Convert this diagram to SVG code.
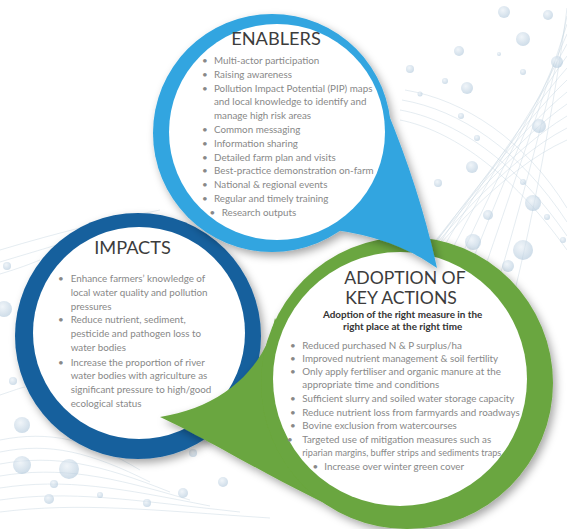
<svg xmlns="http://www.w3.org/2000/svg" width="567" height="529" viewBox="0 0 567 529">
<defs>
<filter id="sh" x="-20%" y="-20%" width="150%" height="150%">
<feDropShadow dx="3" dy="4" stdDeviation="4" flood-color="#000" flood-opacity="0.35"/>
</filter>
<radialGradient id="dot" cx="0.4" cy="0.35" r="0.7">
<stop offset="0" stop-color="#e6eef5"/>
<stop offset="1" stop-color="#aac3d8"/>
</radialGradient>
</defs>
<style>
.bg-line{fill:none;stroke:#c8d6e2;stroke-width:0.6;opacity:0.8}
.dot{fill:url(#dot);opacity:0.6}
.title{font-family:Lato,"Liberation Sans",sans-serif;font-size:18.2px;fill:#3c3c3c}
.item{font-family:Lato,"Liberation Sans",sans-serif;font-size:9.8px;fill:#888}
.head{font-family:Lato,"Liberation Sans",sans-serif;text-anchor:middle}
.t2{font-size:17.6px;fill:#3c3c3c}
.sub{font-size:9.9px;font-weight:bold;fill:#333}
.white{fill:#fff}
</style>
<rect width="567" height="529" fill="#fff"/>
<g id="background">
<path class="bg-line" d="M380,320 C430,250 500,170 567,140"/>
<path class="bg-line" d="M385,310 C435,240 505,160 567,128"/>
<path class="bg-line" d="M392,300 C440,230 510,150 567,116"/>
<path class="bg-line" d="M400,290 C446,222 515,140 567,104"/>
<path class="bg-line" d="M410,282 C452,214 520,130 567,92"/>
<path class="bg-line" d="M420,276 C460,206 525,120 567,80"/>
<path class="bg-line" d="M430,272 C468,200 530,110 567,68"/>
<path class="bg-line" d="M442,270 C478,195 535,100 567,56"/>
<path class="bg-line" d="M455,270 C490,192 540,92 567,44"/>
<path class="bg-line" d="M468,272 C500,190 545,84 567,34"/>
<path class="bg-line" d="M482,276 C512,190 550,76 567,24"/>
<path class="bg-line" d="M498,282 C525,192 556,70 567,16"/>
<path class="bg-line" d="M515,290 C538,196 560,66 567,8"/>
<path class="bg-line" d="M400,120 C450,130 510,170 567,250"/>
<path class="bg-line" d="M400,110 C455,120 515,160 567,236"/>
<path class="bg-line" d="M402,100 C460,110 520,150 567,222"/>
<path class="bg-line" d="M405,90 C465,100 525,140 567,208"/>
<path class="bg-line" d="M0,250 C60,232 110,220 160,210"/>
<path class="bg-line" d="M0,262 C40,250 60,244 80,238"/>
<path class="bg-line" d="M0,274 C20,268 30,264 40,260"/>
<path class="bg-line" d="M0,395 C15,390 20,388 25,387"/>
<path class="bg-line" d="M0,440 C50,430 90,440 140,470"/>
<path class="bg-line" d="M0,452 C50,442 90,452 150,482"/>
<path class="bg-line" d="M0,464 C55,454 100,464 170,492"/>
<path class="bg-line" d="M0,476 C60,466 110,476 190,500"/>
<path class="bg-line" d="M0,488 C65,478 120,488 210,506"/>
<path class="bg-line" d="M0,500 C70,490 130,500 240,512"/>
<path class="bg-line" d="M0,512 C80,502 150,510 270,518"/>
<circle class="dot" cx="504" cy="12" r="6"/>
<circle class="dot" cx="548" cy="15" r="5"/>
<circle class="dot" cx="523" cy="39" r="7"/>
<circle class="dot" cx="459" cy="51" r="5"/>
<circle class="dot" cx="557" cy="62" r="6"/>
<circle class="dot" cx="499" cy="54" r="2"/>
<circle class="dot" cx="410" cy="69" r="4"/>
<circle class="dot" cx="467" cy="88" r="6"/>
<circle class="dot" cx="445" cy="81" r="3"/>
<circle class="dot" cx="523" cy="72" r="3"/>
<circle class="dot" cx="461" cy="116" r="3"/>
<circle class="dot" cx="420" cy="94" r="2.5"/>
<circle class="dot" cx="539" cy="126" r="7"/>
<circle class="dot" cx="477" cy="138" r="3"/>
<circle class="dot" cx="472" cy="167" r="6"/>
<circle class="dot" cx="438" cy="183" r="4"/>
<circle class="dot" cx="533" cy="203" r="8"/>
<circle class="dot" cx="523" cy="182" r="3"/>
<circle class="dot" cx="488" cy="215" r="5"/>
<circle class="dot" cx="547" cy="217" r="3"/>
<circle class="dot" cx="473" cy="242" r="8"/>
<circle class="dot" cx="523" cy="250" r="10"/>
<circle class="dot" cx="508" cy="266" r="6"/>
<circle class="dot" cx="563" cy="240" r="3"/>
<circle class="dot" cx="7" cy="266" r="4"/>
<circle class="dot" cx="4" cy="309" r="8"/>
<circle class="dot" cx="13" cy="381" r="4"/>
<circle class="dot" cx="22" cy="425" r="8"/>
<circle class="dot" cx="22" cy="465" r="9"/>
<circle class="dot" cx="69" cy="469" r="10"/>
<circle class="dot" cx="54" cy="484" r="4"/>
<circle class="dot" cx="49" cy="499" r="5"/>
<circle class="dot" cx="193" cy="453" r="4"/>
<circle class="dot" cx="223" cy="482" r="5"/>
<circle class="dot" cx="183" cy="493" r="5"/>
<circle class="dot" cx="147" cy="503" r="4"/>
<circle class="dot" cx="100" cy="495" r="3"/>
</g>

<g id="impacts">
<g filter="url(#sh)"><circle cx="138" cy="336" r="123" fill="#17609d"/></g>
<circle class="white" cx="139" cy="333" r="106"/>
<text class="title" x="132.5" y="254" text-anchor="middle">IMPACTS</text>
<text class="item" x="58" y="282.3">•</text>
<text class="item" x="70.7" y="282.3">Enhance farmers’ knowledge of</text>
<text class="item" x="70.7" y="296">local water quality and pollution</text>
<text class="item" x="70.7" y="309.6">pressures</text>
<text class="item" x="58" y="323.3">•</text>
<text class="item" x="70.7" y="323.3">Reduce nutrient, sediment,</text>
<text class="item" x="70.7" y="337">pesticide and pathogen loss to</text>
<text class="item" x="70.7" y="350.7">water bodies</text>
<text class="item" x="58" y="365.5">•</text>
<text class="item" x="70.7" y="365.5">Increase the proportion of river</text>
<text class="item" x="70.7" y="379.3">water bodies with agriculture as</text>
<text class="item" x="70.7" y="393">significant pressure to high/good</text>
<text class="item" x="70.7" y="406.7">ecological status</text>
</g>

<g id="adoption">
<g filter="url(#sh)">
<path d="M275,318 C265,370 220,408 160,417 C210,440 290,490 365,522 Z" fill="#6aa63f"/>
<circle cx="407" cy="383" r="146" fill="#6aa63f"/>
</g>
<circle class="white" cx="400" cy="379" r="127"/>
<text class="head"><tspan class="t2" x="405" y="283.6">ADOPTION OF</tspan><tspan class="t2" x="401" y="304.2">KEY ACTIONS</tspan><tspan class="sub" x="402.6" y="318">Adoption of the right measure in the</tspan><tspan class="sub" x="402.6" y="329.5">right place at the right time</tspan></text>
<text class="item" x="290" y="348.7">•</text>
<text class="item" x="302.3" y="348.7">Reduced purchased N &amp; P surplus/ha</text>
<text class="item" x="290" y="361.7">•</text>
<text class="item" x="302.3" y="361.7">Improved nutrient management &amp; soil fertility</text>
<text class="item" x="290" y="374.5">•</text>
<text class="item" x="302.3" y="374.5">Only apply fertiliser and organic manure at the</text>
<text class="item" x="302.3" y="388.3">appropriate time and conditions</text>
<text class="item" x="290" y="401.7">•</text>
<text class="item" x="302.3" y="401.7">Sufficient slurry and soiled water storage capacity</text>
<text class="item" x="290" y="415.5">•</text>
<text class="item" x="302.3" y="415.5">Reduce nutrient loss from farmyards and roadways</text>
<text class="item" x="290" y="429">•</text>
<text class="item" x="302.3" y="429">Bovine exclusion from watercourses</text>
<text class="item" x="287" y="442.7">•</text>
<text class="item" x="302.3" y="442.7">Targeted use of mitigation measures such as</text>
<text class="item" x="302.3" y="455.7" textLength="199" lengthAdjust="spacingAndGlyphs">riparian margins, buffer strips and sediments traps</text>
<text class="item" x="312.5" y="470">•</text>
<text class="item" x="324.3" y="470">Increase over winter green cover</text>
</g>

<g id="enablers">
<g filter="url(#sh)">
<circle cx="272" cy="133" r="119" fill="#31a5e0"/>
<path d="M386,108 Q420,190 437,268 Q395,238 335,230 Z" fill="#31a5e0"/>
</g>
<circle class="white" cx="277" cy="132" r="108"/>
<text class="title" x="276" y="45" text-anchor="middle">ENABLERS</text>
<text class="item" x="202" y="64">•</text>
<text class="item" x="214" y="64">Multi-actor participation</text>
<text class="item" x="202" y="77.8">•</text>
<text class="item" x="214" y="77.8">Raising awareness</text>
<text class="item" x="202" y="91.6">•</text>
<text class="item" x="214" y="91.6">Pollution Impact Potential (PIP) maps</text>
<text class="item" x="214" y="105.4">and local knowledge to identify and</text>
<text class="item" x="214" y="119.2">manage high risk areas</text>
<text class="item" x="202" y="133">•</text>
<text class="item" x="214" y="133">Common messaging</text>
<text class="item" x="202" y="146.8">•</text>
<text class="item" x="214" y="146.8">Information sharing</text>
<text class="item" x="202" y="160.6">•</text>
<text class="item" x="214" y="160.6">Detailed farm plan and visits</text>
<text class="item" x="202" y="174.4">•</text>
<text class="item" x="214" y="174.4">Best-practice demonstration on-farm</text>
<text class="item" x="202" y="188.2">•</text>
<text class="item" x="214" y="188.2">National &amp; regional events</text>
<text class="item" x="202" y="202">•</text>
<text class="item" x="214" y="202">Regular and timely training</text>
<text class="item" x="209.5" y="215.8">•</text>
<text class="item" x="221.7" y="215.8">Research outputs</text>
</g>
</svg>
